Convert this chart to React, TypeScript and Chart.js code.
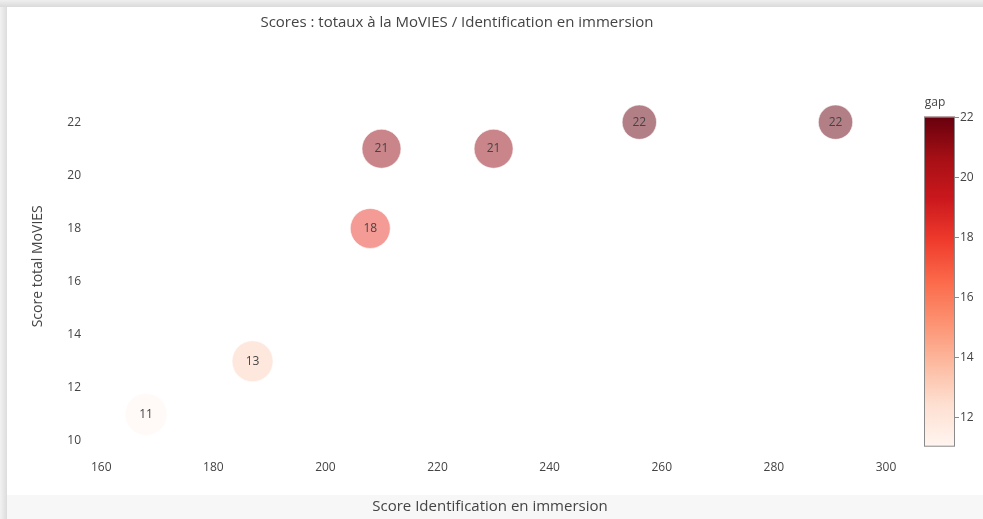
import React, { useEffect, useRef } from 'react';
import { Chart, registerables } from 'chart.js';

Chart.register(...registerables);

// ---- data ----
const xValues = [168, 187, 208, 210, 230, 256, 291];
const yValues = [11, 13, 18, 21, 21, 22, 22];
const gapValues = [11, 13, 18, 21, 21, 22, 22];
const markerRadius = [21, 20.5, 20, 19.5, 19.5, 17.2, 17.2];
const xTicks = [160, 180, 200, 220, 240, 260, 280, 300];
const yTicks = [10, 12, 14, 16, 18, 20, 22];
const colorbarTicks = [12, 14, 16, 18, 20, 22];
const gapMin = 11;
const gapMax = 22;
const redsScale = [
  [255, 245, 240], [254, 224, 210], [252, 187, 161], [252, 146, 114],
  [251, 106, 74], [239, 59, 44], [203, 24, 29], [165, 15, 21], [103, 0, 13],
];

const TITLE = 'Scores : totaux à la MoVIES / Identification en immersion';
const X_TITLE = 'Score Identification en immersion';
const Y_TITLE = 'Score total MoVIES';
const FONT = "'Open Sans', sans-serif";
const TEXT = '#444';

function scaleColor(v: number, alpha: number) {
  const t = Math.max(0, Math.min(1, (v - gapMin) / (gapMax - gapMin)));
  const pos = t * (redsScale.length - 1);
  const i = Math.min(Math.floor(pos), redsScale.length - 2);
  const f = pos - i;
  const a = redsScale[i], b = redsScale[i + 1];
  const c = a.map((x, k) => Math.round(x + (b[k] - x) * f));
  return `rgba(${c[0]},${c[1]},${c[2]},${alpha})`;
}

const framePlugin = {
  id: 'frame',
  beforeDraw(chart: any) {
    const { ctx, width, height } = chart;
    ctx.save();
    ctx.fillStyle = '#e4e4e4';
    ctx.fillRect(0, 0, width, height);
    const gTop = ctx.createLinearGradient(0, 0, 0, 7);
    gTop.addColorStop(0, '#efefef');
    gTop.addColorStop(1, '#dadada');
    ctx.fillStyle = gTop;
    ctx.fillRect(0, 0, width, 7);
    const gLeft = ctx.createLinearGradient(0, 0, 7, 0);
    gLeft.addColorStop(0, '#f2f2f2');
    gLeft.addColorStop(1, '#dcdcdc');
    ctx.fillStyle = gLeft;
    ctx.fillRect(0, 7, 7, height - 7);
    ctx.fillStyle = '#ffffff';
    ctx.fillRect(7, 7, width - 7, 488);
    ctx.fillStyle = '#f7f7f7';
    ctx.fillRect(7, 495, width - 7, height - 495);
    ctx.restore();
  },
  afterDraw(chart: any) {
    const { ctx } = chart;
    ctx.save();
    ctx.font = `15px ${FONT}`;
    ctx.fillStyle = TEXT;
    ctx.textAlign = 'center';
    ctx.textBaseline = 'middle';
    ctx.fillText(X_TITLE, 490, 507);
    ctx.restore();
  },
};

const labelPlugin = {
  id: 'bubbleLabels',
  afterDatasetsDraw(chart: any) {
    const { ctx } = chart;
    const meta = chart.getDatasetMeta(0);
    ctx.save();
    ctx.font = `12px ${FONT}`;
    ctx.fillStyle = TEXT;
    ctx.textAlign = 'center';
    ctx.textBaseline = 'middle';
    meta.data.forEach((el: any, i: number) => {
      ctx.fillText(String(gapValues[i]), el.x, el.y);
    });
    ctx.restore();
  },
};

const colorbarPlugin = {
  id: 'colorbar',
  afterDraw(chart: any) {
    const { ctx } = chart;
    const left = 924, right = 955, top = 116.7, bottom = 446.7;
    const yOf = (v: number) => bottom - ((v - gapMin) / (gapMax - gapMin)) * (bottom - top);
    ctx.save();
    const grad = ctx.createLinearGradient(0, bottom, 0, top);
    redsScale.forEach((c, i) => {
      grad.addColorStop(i / (redsScale.length - 1), `rgb(${c[0]},${c[1]},${c[2]})`);
    });
    ctx.fillStyle = grad;
    ctx.fillRect(left, top, right - left, bottom - top);
    ctx.strokeStyle = '#8a8a8a';
    ctx.lineWidth = 1;
    ctx.strokeRect(left + 0.5, top + 0.5, right - left - 1, bottom - top - 1);
    ctx.font = `12px ${FONT}`;
    ctx.fillStyle = TEXT;
    ctx.textBaseline = 'middle';
    ctx.textAlign = 'left';
    colorbarTicks.forEach((v) => {
      const y = yOf(v);
      ctx.beginPath();
      ctx.moveTo(right, Math.round(y) + 0.5);
      ctx.lineTo(right + 4, Math.round(y) + 0.5);
      ctx.stroke();
      ctx.fillText(String(v), right + 5, y + 0.5);
    });
    ctx.textAlign = 'center';
    ctx.fillText('gap', 935, 103);
    ctx.restore();
  },
};

export default function App() {
  const ref = useRef<HTMLCanvasElement>(null);

  useEffect(() => {
    if (!ref.current) return;
    const chart = new Chart(ref.current, {
      type: 'bubble',
      data: {
        datasets: [
          {
            label: 'gap',
            data: xValues.map((x, i) => ({ x, y: yValues[i], r: markerRadius[i] })),
            backgroundColor: gapValues.map((g) => scaleColor(g, 0.5)),
            borderColor: 'rgba(255,255,255,0.6)',
            borderWidth: 1,
            hoverRadius: 0,
          },
        ],
      },
      options: {
        animation: false,
        responsive: false,
        events: [],
        layout: { padding: { left: 0, right: 69, top: 0, bottom: 0 } },
        plugins: {
          legend: { display: false },
          tooltip: { enabled: false },
          title: {
            display: true,
            text: TITLE,
            color: TEXT,
            font: { family: FONT, size: 15, weight: 'normal', lineHeight: 1.2 },
            padding: { top: 13.5, bottom: 45.5 },
          },
        },
        scales: {
          x: {
            type: 'linear',
            min: 158,
            max: 305,
            grid: { display: false, drawTicks: false },
            border: { display: false },
            afterBuildTicks: (s: any) => {
              s.ticks = xTicks.map((v) => ({ value: v }));
            },
            afterFit: (s: any) => {
              s.height = 63.4;
            },
            ticks: {
              color: TEXT,
              font: { family: FONT, size: 12 },
              padding: 5,
              maxRotation: 0,
              autoSkip: false,
            },
          },
          y: {
            type: 'linear',
            min: 9.45,
            max: 23.7,
            grid: { display: false, drawTicks: false },
            border: { display: false },
            afterBuildTicks: (s: any) => {
              s.ticks = yTicks.map((v) => ({ value: v }));
            },
            afterFit: (s: any) => {
              s.width = 90;
            },
            ticks: {
              color: TEXT,
              font: { family: FONT, size: 12 },
              padding: 9,
              autoSkip: false,
            },
            title: {
              display: true,
              text: Y_TITLE,
              color: TEXT,
              font: { family: FONT, size: 14 },
              padding: { top: 29.6, bottom: 0 },
            },
          },
        },
      },
      plugins: [framePlugin, labelPlugin, colorbarPlugin],
    } as any);
    return () => chart.destroy();
  }, []);

  return (
    <div style={{ position: 'absolute', left: 0, top: 0, width: 983, height: 519 }}>
      <canvas ref={ref} width={983} height={519} style={{ display: 'block', width: 983, height: 519 }} />
    </div>
  );
}
